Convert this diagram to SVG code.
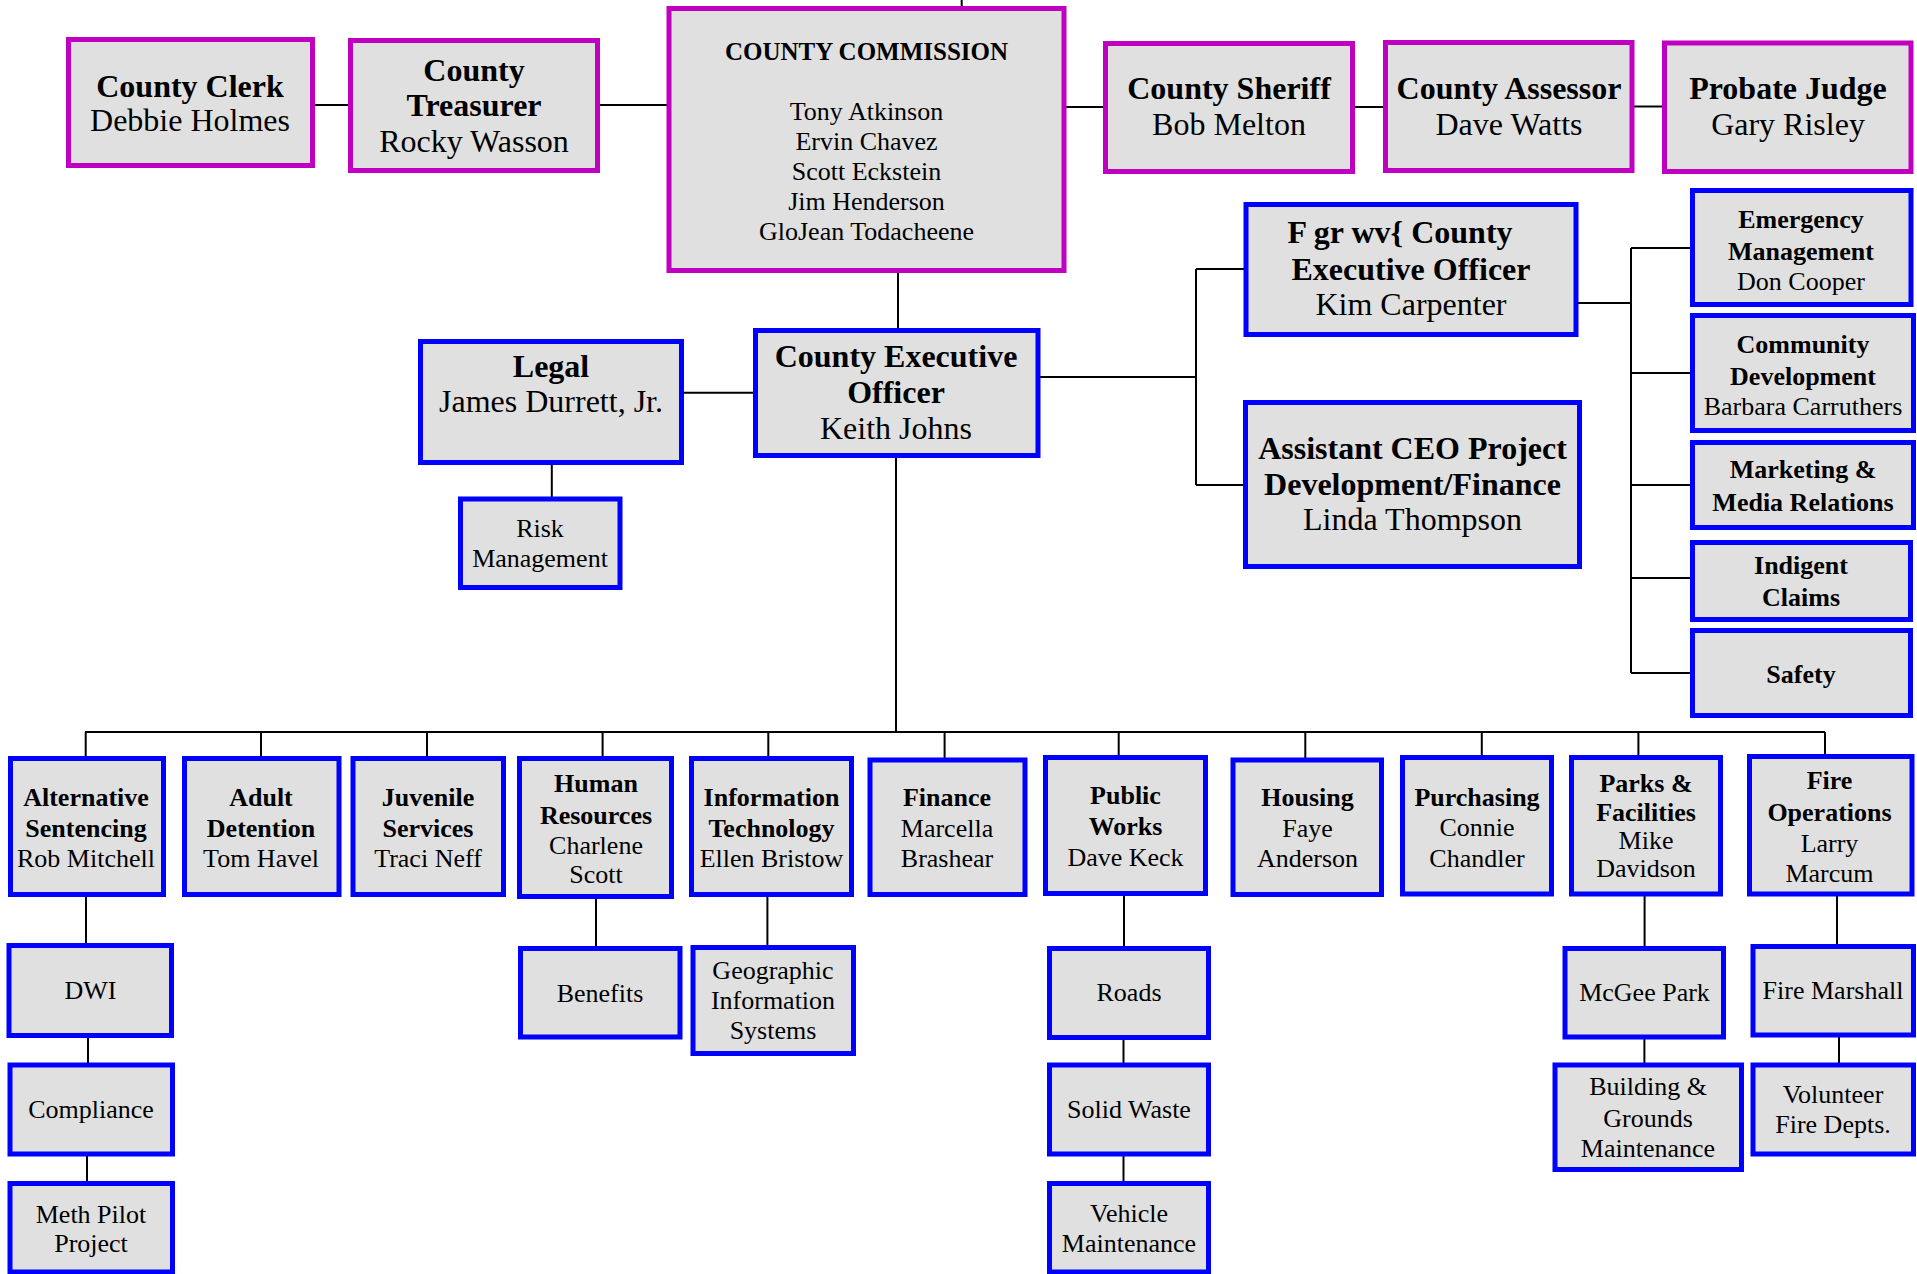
<svg xmlns="http://www.w3.org/2000/svg" width="1917" height="1274" viewBox="0 0 1917 1274">
<style>
.m{fill:#E0E0E0;stroke:#C000C0;stroke-width:5}
.b{fill:#E0E0E0;stroke:#0000FF;stroke-width:5}
text{font-family:"Liberation Serif","Times New Roman",serif;fill:#000;text-anchor:middle}
.L{font-size:32px}
.S{font-size:26px}
.bd{font-weight:bold}
.c{fill:none;stroke:#000;stroke-width:2}
</style>
<rect width="1917" height="1274" fill="#fff"/>
<g id="connectors" class="c">
<path d="M961.7 0V8"/>
<path d="M313 105H350"/>
<path d="M598 105H669"/>
<path d="M1064 107H1105"/>
<path d="M1353 107H1385"/>
<path d="M1632 106.5H1664"/>
<path d="M898 271V330"/>
<path d="M682 392.7H755"/>
<path d="M551.8 463V499"/>
<path d="M1038 377H1196"/>
<path d="M1196 269V485"/>
<path d="M1196 269H1246M1196 485H1245"/>
<path d="M1576 303H1631"/>
<path d="M1631 248V673"/>
<path d="M1631 248H1692M1631 373H1692M1631 485H1692M1631 578H1692M1631 673H1692"/>
<path d="M896 456V732"/>
<path d="M85 732H1825"/>
<path d="M85.7 732V758M261 732V758M427 732V758M602.6 732V758M768.3 732V758M944.6 732V760M1118.7 732V757M1305.3 732V760M1481.8 732V757M1638.4 732V757M1825 732V756"/>
<path d="M86 895V945"/>
<path d="M88 1036V1065"/>
<path d="M87 1155V1183"/>
<path d="M596 897V948"/>
<path d="M767.4 895V947"/>
<path d="M1124 894V948"/>
<path d="M1123.5 1038V1065"/>
<path d="M1123.5 1154V1183"/>
<path d="M1644.6 894V948"/>
<path d="M1644.4 1037V1065"/>
<path d="M1837 894V946"/>
<path d="M1839 1035V1065"/>
</g>
<g id="county-clerk"><rect class="m" x="68.5" y="39.5" width="244" height="126"/>
<text class="L bd" x="190" y="97">County Clerk</text><text class="L" x="190" y="131">Debbie Holmes</text></g>
<g id="county-treasurer"><rect class="m" x="350.5" y="40.5" width="247" height="130"/>
<text class="L bd" x="474" y="81">County</text><text class="L bd" x="474" y="116">Treasurer</text><text class="L" x="474" y="152">Rocky Wasson</text></g>
<g id="county-commission"><rect class="m" x="669" y="8.5" width="395" height="262"/>
<text class="bd" style="font-size:25px" x="866.5" y="60">COUNTY COMMISSION</text>
<text class="S" x="866.5" y="120">Tony Atkinson</text>
<text class="S" x="866.5" y="150">Ervin Chavez</text>
<text class="S" x="866.5" y="180">Scott Eckstein</text>
<text class="S" x="866.5" y="210">Jim Henderson</text>
<text class="S" x="866.5" y="240">GloJean Todacheene</text></g>
<g id="county-sheriff"><rect class="m" x="1105.5" y="43.5" width="247" height="128"/>
<text class="L bd" x="1229" y="99">County Sheriff</text><text class="L" x="1229" y="135">Bob Melton</text></g>
<g id="county-assessor"><rect class="m" x="1385.5" y="42.5" width="246.5" height="128"/>
<text class="L bd" x="1509" y="99">County Assessor</text><text class="L" x="1509" y="135">Dave Watts</text></g>
<g id="probate-judge"><rect class="m" x="1664.5" y="43" width="246.5" height="128.5"/>
<text class="L bd" x="1788" y="99">Probate Judge</text><text class="L" x="1788" y="135">Gary Risley</text></g>
<g id="deputy-ceo"><rect class="b" x="1246" y="204.5" width="330" height="130"/>
<text class="L bd" x="1400" y="243">F gr wv{ County</text><text class="L bd" x="1411" y="280">Executive Officer</text><text class="L" x="1411" y="315">Kim Carpenter</text></g>
<g id="assistant-ceo"><rect class="b" x="1245.5" y="402.5" width="334" height="164"/>
<text class="L bd" x="1412.5" y="459">Assistant CEO Project</text><text class="L bd" x="1412.5" y="495">Development/Finance</text><text class="L" x="1412.5" y="530">Linda Thompson</text></g>
<g id="emergency-management"><rect class="b" x="1692.5" y="190.5" width="218.5" height="114"/>
<text class="S bd" x="1801" y="228">Emergency</text><text class="S bd" x="1801" y="260">Management</text><text class="S" x="1801" y="290">Don Cooper</text></g>
<g id="community-development"><rect class="b" x="1692.5" y="315.5" width="221" height="115"/>
<text class="S bd" x="1803" y="353">Community</text><text class="S bd" x="1803" y="385">Development</text><text class="S" x="1803" y="415">Barbara Carruthers</text></g>
<g id="marketing"><rect class="b" x="1692.5" y="442.5" width="221" height="85"/>
<text class="S bd" x="1803" y="478">Marketing &amp;</text><text class="S bd" x="1803" y="510.7">Media Relations</text></g>
<g id="indigent-claims"><rect class="b" x="1692.5" y="542.5" width="218" height="77"/>
<text class="S bd" x="1801" y="574">Indigent</text><text class="S bd" x="1801" y="606">Claims</text></g>
<g id="safety"><rect class="b" x="1692.5" y="630.5" width="218" height="85"/>
<text class="S bd" x="1801" y="683">Safety</text></g>
<g id="ceo"><rect class="b" x="755.5" y="330.5" width="282.5" height="125"/>
<text class="L bd" x="896" y="367">County Executive</text><text class="L bd" x="896" y="403">Officer</text><text class="L" x="896" y="439">Keith Johns</text></g>
<g id="legal"><rect class="b" x="420.5" y="341.5" width="261" height="121"/>
<text class="L bd" x="551" y="377">Legal</text><text class="L" x="551" y="412">James Durrett, Jr.</text></g>
<g id="risk-management"><rect class="b" x="460.5" y="499" width="159.5" height="88.5"/>
<text class="S" x="540" y="537">Risk</text><text class="S" x="540" y="567">Management</text></g>
<g id="alternative-sentencing"><rect class="b" x="10.5" y="758.5" width="153" height="136"/>
<text class="S bd" x="86" y="806">Alternative</text><text class="S bd" x="86" y="837">Sentencing</text><text class="S" x="86" y="867">Rob Mitchell</text></g>
<g id="adult-detention"><rect class="b" x="184.5" y="758.5" width="154.5" height="136"/>
<text class="S bd" x="261" y="806">Adult</text><text class="S bd" x="261" y="837">Detention</text><text class="S" x="261" y="867">Tom Havel</text></g>
<g id="juvenile-services"><rect class="b" x="353" y="758.5" width="150.5" height="136"/>
<text class="S bd" x="428" y="806">Juvenile</text><text class="S bd" x="428" y="837">Services</text><text class="S" x="428" y="867">Traci Neff</text></g>
<g id="human-resources"><rect class="b" x="519.5" y="758.5" width="152" height="138"/>
<text class="S bd" x="596" y="792">Human</text><text class="S bd" x="596" y="824">Resources</text><text class="S" x="596" y="854">Charlene</text><text class="S" x="596" y="883">Scott</text></g>
<g id="information-technology"><rect class="b" x="691.5" y="758.5" width="160" height="136"/>
<text class="S bd" x="771.5" y="806">Information</text><text class="S bd" x="771.5" y="837">Technology</text><text class="S" x="771.5" y="867">Ellen Bristow</text></g>
<g id="finance"><rect class="b" x="870" y="760" width="155" height="134.5"/>
<text class="S bd" x="947" y="806">Finance</text><text class="S" x="947" y="837">Marcella</text><text class="S" x="947" y="867">Brashear</text></g>
<g id="public-works"><rect class="b" x="1045.5" y="757.5" width="160" height="136"/>
<text class="S bd" x="1125.5" y="804">Public</text><text class="S bd" x="1125.5" y="835">Works</text><text class="S" x="1125.5" y="866">Dave Keck</text></g>
<g id="housing"><rect class="b" x="1233" y="760" width="148.5" height="134.5"/>
<text class="S bd" x="1307.5" y="806">Housing</text><text class="S" x="1307.5" y="837">Faye</text><text class="S" x="1307.5" y="867">Anderson</text></g>
<g id="purchasing"><rect class="b" x="1402.5" y="757.5" width="149" height="136.5"/>
<text class="S bd" x="1477" y="806">Purchasing</text><text class="S" x="1477" y="836">Connie</text><text class="S" x="1477" y="867">Chandler</text></g>
<g id="parks-facilities"><rect class="b" x="1571.5" y="757.5" width="149" height="136.5"/>
<text class="S bd" x="1646" y="792">Parks &amp;</text><text class="S bd" x="1646" y="821">Facilities</text><text class="S" x="1646" y="849">Mike</text><text class="S" x="1646" y="877">Davidson</text></g>
<g id="fire-operations"><rect class="b" x="1749.5" y="756.5" width="162.5" height="137.5"/>
<text class="S bd" x="1829.5" y="789">Fire</text><text class="S bd" x="1829.5" y="821">Operations</text><text class="S" x="1829.5" y="852">Larry</text><text class="S" x="1829.5" y="882">Marcum</text></g>
<g id="dwi"><rect class="b" x="9" y="945.5" width="162.5" height="90"/>
<text class="S" x="90.5" y="999">DWI</text></g>
<g id="compliance"><rect class="b" x="10" y="1065" width="162.5" height="89"/>
<text class="S" x="91" y="1118">Compliance</text></g>
<g id="meth-pilot"><rect class="b" x="10" y="1183.5" width="162.5" height="88.5"/>
<text class="S" x="91" y="1223">Meth Pilot</text><text class="S" x="91" y="1252">Project</text></g>
<g id="benefits"><rect class="b" x="520.5" y="948.5" width="159.5" height="88.5"/>
<text class="S" x="600" y="1002">Benefits</text></g>
<g id="gis"><rect class="b" x="693" y="947.5" width="160.5" height="106"/>
<text class="S" x="773" y="979">Geographic</text><text class="S" x="773" y="1009">Information</text><text class="S" x="773" y="1039">Systems</text></g>
<g id="roads"><rect class="b" x="1049.5" y="948.5" width="159" height="89"/>
<text class="S" x="1129" y="1001">Roads</text></g>
<g id="solid-waste"><rect class="b" x="1049.5" y="1065" width="159" height="89"/>
<text class="S" x="1129" y="1118">Solid Waste</text></g>
<g id="vehicle-maintenance"><rect class="b" x="1049.5" y="1183.5" width="159" height="88.5"/>
<text class="S" x="1129" y="1222">Vehicle</text><text class="S" x="1129" y="1252">Maintenance</text></g>
<g id="mcgee-park"><rect class="b" x="1565" y="948.5" width="158.5" height="88.5"/>
<text class="S" x="1644.5" y="1001">McGee Park</text></g>
<g id="building-grounds"><rect class="b" x="1555" y="1065" width="186.5" height="104.5"/>
<text class="S" x="1648" y="1095">Building &amp;</text><text class="S" x="1648" y="1127">Grounds</text><text class="S" x="1648" y="1157">Maintenance</text></g>
<g id="fire-marshall"><rect class="b" x="1753" y="946.5" width="160.5" height="88.5"/>
<text class="S" x="1833" y="999">Fire Marshall</text></g>
<g id="volunteer-fire"><rect class="b" x="1753" y="1065" width="160.5" height="89"/>
<text class="S" x="1833" y="1103">Volunteer</text><text class="S" x="1833" y="1133">Fire Depts.</text></g>
</svg>
